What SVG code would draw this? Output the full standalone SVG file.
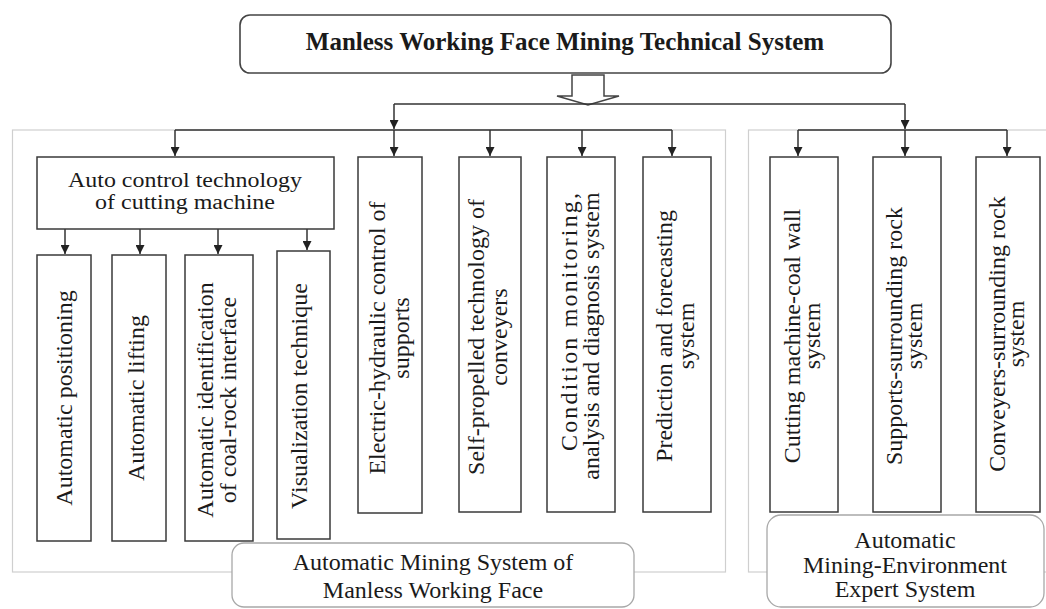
<svg xmlns="http://www.w3.org/2000/svg" width="1046" height="609" viewBox="0 0 1046 609">
<style>
text{font-family:"Liberation Serif","Times New Roman",serif;fill:#1a1a1a;font-size:24px;}
.t{font-size:25px;font-weight:bold;}
.s{font-size:20px;}
.box{fill:#fff;stroke:#3a3a3a;stroke-width:1.5;}
.cont{fill:none;stroke:#cfcfcf;stroke-width:1.2;}
.lbl{fill:#fff;stroke:#a8a8a8;stroke-width:1.3;}
.conn{fill:none;stroke:#333;stroke-width:1.5;}
.arr{marker-end:url(#ah);}
</style>
<defs>
<marker id="ah" markerUnits="userSpaceOnUse" markerWidth="9" markerHeight="9" refX="8" refY="4" orient="auto" viewBox="0 0 8 8">
<path d="M0,0 L8,4 L0,8 z" fill="#222"/>
</marker>
</defs>
<rect width="1046" height="609" fill="#fff"/>
<g id="containers">
<rect class="cont" x="12.5" y="130" width="713" height="442"/>
<rect class="cont" x="748.5" y="130" width="310" height="442"/>
</g>
<g id="connectors">
<polygon points="572,75 604,75 604,96 619,96 588,105 557,96 572,96" fill="#fff" stroke="#444" stroke-width="1.5"/>
<path class="conn" d="M394,104 H905"/>
<path class="conn arr" d="M394,104 V129"/>
<path class="conn arr" d="M905,104 V129"/>
<path class="conn" d="M175,130 H672"/>
<path class="conn arr" d="M175,130 V156"/>
<path class="conn arr" d="M394,130 V156"/>
<path class="conn arr" d="M490,130 V156"/>
<path class="conn arr" d="M582,130 V156"/>
<path class="conn arr" d="M672,130 V156"/>
<path class="conn" d="M798,130 H1007"/>
<path class="conn arr" d="M798,130 V156"/>
<path class="conn arr" d="M905,130 V156"/>
<path class="conn arr" d="M1007,130 V156"/>
<path class="conn arr" d="M65,229 V254"/>
<path class="conn arr" d="M140,229 V254"/>
<path class="conn arr" d="M218,229 V254"/>
<path class="conn arr" d="M307,229 V250"/>
</g>
<g id="title">
<rect x="240" y="15" width="651" height="58" rx="10" fill="#fff" stroke="#444" stroke-width="1.6"/>
<text class="t" x="565" y="50" text-anchor="middle">Manless Working Face Mining Technical System</text>
</g>
<g id="auto-control">
<rect class="box" x="37" y="157" width="297" height="72"/>
<text class="s" x="185" y="187" text-anchor="middle" textLength="234" lengthAdjust="spacingAndGlyphs">Auto control technology</text>
<text class="s" x="185" y="209" text-anchor="middle" textLength="180" lengthAdjust="spacingAndGlyphs">of cutting machine</text>
</g>
<g id="auto-positioning">
<rect class="box" x="37" y="255" width="54" height="286"/>
<g transform="translate(64,398) rotate(-90)"><text x="0" y="8" text-anchor="middle">Automatic positioning</text></g>
</g>
<g id="auto-lifting">
<rect class="box" x="112" y="255" width="54" height="286"/>
<g transform="translate(139,398) rotate(-90)"><text x="0" y="5" text-anchor="middle">Automatic lifting</text></g>
</g>
<g id="auto-identification">
<rect class="box" x="185" y="255" width="68" height="286"/>
<g transform="translate(219,400) rotate(-90)"><text x="0" y="-6" text-anchor="middle">Automatic identification</text><text x="0" y="17" text-anchor="middle">of coal-rock interface</text></g>
</g>
<g id="visualization">
<rect class="box" x="277" y="251" width="53" height="288"/>
<g transform="translate(303.5,396) rotate(-90)"><text x="0" y="3" text-anchor="middle">Visualization technique</text></g>
</g>
<g id="electric-hydraulic">
<rect class="box" x="358" y="157" width="64" height="356"/>
<g transform="translate(390,338) rotate(-90)"><text x="0" y="-5" text-anchor="middle">Electric-hydraulic control of</text><text x="0" y="19" text-anchor="middle">supports</text></g>
</g>
<g id="self-propelled">
<rect class="box" x="459" y="157" width="62" height="355"/>
<g transform="translate(490,337) rotate(-90)"><text x="0" y="-6" text-anchor="middle">Self-propelled technology of</text><text x="0" y="17" text-anchor="middle">conveyers</text></g>
</g>
<g id="condition-monitoring">
<rect class="box" x="547" y="157" width="68" height="355"/>
<g transform="translate(581,336) rotate(-90)"><text x="14" y="-4" text-anchor="middle" textLength="258" lengthAdjust="spacing">Condition monitoring,</text><text x="0" y="18" text-anchor="middle">analysis and diagnosis system</text></g>
</g>
<g id="prediction">
<rect class="box" x="643" y="157" width="68" height="355"/>
<g transform="translate(677,336) rotate(-90)"><text x="0" y="-5" text-anchor="middle">Prediction and forecasting</text><text x="0" y="17" text-anchor="middle">system</text></g>
</g>
<g id="cutting-coal-wall">
<rect class="box" x="770" y="157" width="68" height="355"/>
<g transform="translate(804,336) rotate(-90)"><text x="0" y="-4" text-anchor="middle">Cutting machine-coal wall</text><text x="0" y="16" text-anchor="middle">system</text></g>
</g>
<g id="supports-rock">
<rect class="box" x="873" y="157" width="68" height="355"/>
<g transform="translate(907,336) rotate(-90)"><text x="0" y="-5" text-anchor="middle">Supports-surrounding rock</text><text x="0" y="15" text-anchor="middle">system</text></g>
</g>
<g id="conveyers-rock">
<rect class="box" x="976" y="157" width="64" height="355"/>
<g transform="translate(1008,334) rotate(-90)"><text x="0" y="-3" text-anchor="middle">Conveyers-surrounding rock</text><text x="0" y="16" text-anchor="middle">system</text></g>
</g>
<g id="label-automatic-mining">
<rect class="lbl" x="232" y="543" width="402" height="64" rx="12"/>
<text x="433" y="570" text-anchor="middle">Automatic Mining System of</text>
<text x="433" y="598" text-anchor="middle">Manless Working Face</text>
</g>
<g id="label-expert">
<rect class="lbl" x="767" y="515" width="277" height="92" rx="14"/>
<text x="905" y="548" text-anchor="middle">Automatic</text>
<text x="905" y="573" text-anchor="middle">Mining-Environment</text>
<text x="905" y="597" text-anchor="middle">Expert System</text>
</g>
</svg>
